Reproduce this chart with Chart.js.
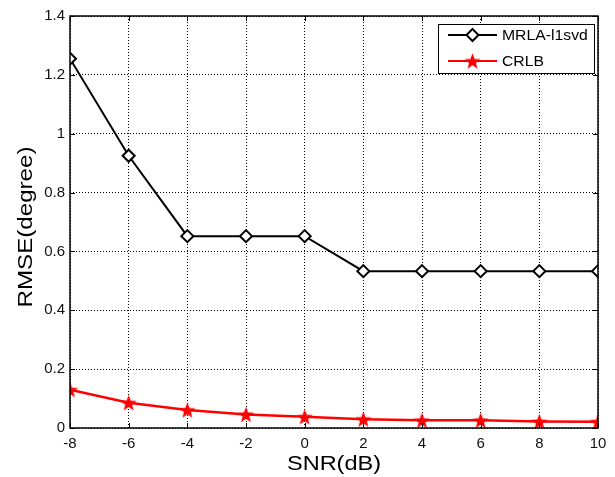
<!DOCTYPE html>
<html>
<head>
<meta charset="utf-8">
<script src="https://cdn.jsdelivr.net/npm/chart.js@4"></script>
<style>
  html, body { margin: 0; padding: 0; background: #fff; }
  #wrap { width: 615px; height: 477px; }
</style>
</head>
<body>
<div id="wrap"><canvas id="myChart" width="615" height="477"></canvas></div>
<script>
"use strict"

const snr = [-8, -6, -4, -2, 0, 2, 4, 6, 8, 10];
const mrla = [1.255, 0.925, 0.652, 0.652, 0.652, 0.533, 0.533, 0.533, 0.533, 0.533];
const crlb = [0.130, 0.086, 0.061, 0.046, 0.038, 0.030, 0.026, 0.026, 0.022, 0.021];
const xTicks = [-8, -6, -4, -2, 0, 2, 4, 6, 8, 10];
const yTicks = [0, 0.2, 0.4, 0.6, 0.8, 1, 1.2, 1.4];
const yTickLabels = ['0', '0.2', '0.4', '0.6', '0.8', '1', '1.2', '1.4'];
const seriesNames = ['MRLA-l1svd', 'CRLB'];

const fontName = "'Liberation Sans', Arial, sans-serif";

// filled five point star used as the CRLB marker
function makeStar(r, color) {
    const c = document.createElement('canvas');
    const s = Math.ceil(r * 2 + 2);
    c.width = s; c.height = s;
    const g = c.getContext('2d');
    g.translate(s / 2, s / 2 + 0.8);
    g.beginPath();
    for (let i = 0; i < 10; i++) {
        const rr = i % 2 === 0 ? r : r * 0.42;
        const a = -Math.PI / 2 + i * Math.PI / 5;
        g.lineTo(rr * Math.cos(a), rr * Math.sin(a));
    }
    g.closePath();
    g.fillStyle = color;
    g.fill();
    return c;
}
const star = makeStar(8.5, '#ff0000');

// wide text, like the stretched axis lettering
function wideText(ctx, text, x, y, sx) {
    ctx.save();
    ctx.translate(x, y);
    ctx.scale(sx, 1);
    ctx.fillText(text, 0, 0);
    ctx.restore();
}

// frame, inward ticks, axis titles and the boxed legend
const decorations = {
    id: 'decorations',
    afterDatasetsDraw(chart) {
        const { ctx, chartArea: a, scales: { x, y } } = chart;
        ctx.save();
        ctx.strokeStyle = '#000';
        ctx.lineWidth = 1;
        ctx.beginPath();
        xTicks.forEach(v => {
            const px = Math.round(x.getPixelForValue(v)) + 0.5;
            ctx.moveTo(px, a.bottom); ctx.lineTo(px, a.bottom - 5);
            ctx.moveTo(px, a.top); ctx.lineTo(px, a.top + 5);
        });
        yTicks.forEach(v => {
            const py = Math.round(y.getPixelForValue(v)) + 0.5;
            ctx.moveTo(a.left, py); ctx.lineTo(a.left + 5, py);
            ctx.moveTo(a.right, py); ctx.lineTo(a.right - 5, py);
        });
        ctx.stroke();
        ctx.lineWidth = 1.5;
        ctx.strokeRect(a.left, a.top, a.right - a.left, a.bottom - a.top);

        ctx.fillStyle = '#000';
        ctx.font = '21px ' + fontName;
        ctx.textAlign = 'center';
        ctx.textBaseline = 'middle';
        wideText(ctx, 'SNR(dB)', (a.left + a.right) / 2, 464, 1.12);
        ctx.save();
        ctx.translate(26, 227);
        ctx.rotate(-Math.PI / 2);
        wideText(ctx, 'RMSE(degree)', 0, 0, 1.15);
        ctx.restore();

        // legend
        const bx = 438, by = 24, bw = 156, bh = 49;
        ctx.fillStyle = '#fff';
        ctx.fillRect(bx, by, bw, bh);
        ctx.lineWidth = 1;
        ctx.strokeStyle = '#000';
        ctx.strokeRect(bx + 0.5, by + 0.5, bw, bh);
        const rows = [35, 61];
        chart.data.datasets.forEach((ds, i) => {
            const ry = rows[i];
            ctx.strokeStyle = ds.borderColor;
            ctx.lineWidth = 2;
            ctx.beginPath();
            ctx.moveTo(448, ry); ctx.lineTo(497, ry);
            ctx.stroke();
            if (i === 0) {
                ctx.beginPath();
                ctx.moveTo(472.5, ry - 6); ctx.lineTo(478.5, ry);
                ctx.lineTo(472.5, ry + 6); ctx.lineTo(466.5, ry);
                ctx.closePath();
                ctx.fillStyle = '#fff';
                ctx.fill();
                ctx.stroke();
            } else {
                ctx.drawImage(star, 472.5 - star.width / 2, ry - star.height / 2);
            }
            ctx.fillStyle = '#000';
            ctx.font = '15px ' + fontName;
            ctx.textAlign = 'left';
            wideText(ctx, ds.label, 502, ry + 1, 1.05);
        });
        ctx.restore();
    }
};

new Chart(document.getElementById('myChart'), {
    type: 'line',
    data: {
        labels: snr,
        datasets: [{
            label: seriesNames[0],
            data: snr.map((s, i) => ({ x: s, y: mrla[i] })),
            borderColor: '#000',
            borderWidth: 2,
            pointStyle: 'rectRot',
            pointRadius: 6,
            pointBorderWidth: 2,
            pointBackgroundColor: '#fff',
            pointBorderColor: '#000',
            tension: 0,
        }, {
            label: seriesNames[1],
            data: snr.map((s, i) => ({ x: s, y: crlb[i] })),
            borderColor: '#ff0000',
            borderWidth: 2.5,
            pointStyle: star,
            tension: 0,
        }]
    },
    options: {
        responsive: false,
        animation: false,
        layout: { padding: { top: 16, right: 17, left: 0, bottom: 0 } },
        plugins: { legend: { display: false }, tooltip: { enabled: false } },
        scales: {
            x: {
                type: 'linear',
                min: -8, max: 10,
                afterBuildTicks: s => { s.ticks = xTicks.map(v => ({ value: v })); },
                afterFit: s => { s.height = 49; },
                grid: { color: '#000', lineWidth: 1, drawTicks: false },
                border: { display: false, dash: [1, 2] },
                ticks: { color: '#111', padding: 7, maxRotation: 0, font: { size: 15, family: fontName } },
            },
            y: {
                min: 0, max: 1.4,
                afterBuildTicks: s => { s.ticks = yTicks.map(v => ({ value: v })); },
                afterFit: s => { s.width = 70; },
                grid: { color: '#000', lineWidth: 1, drawTicks: false },
                border: { display: false, dash: [1, 2] },
                ticks: {
                    color: '#111', padding: 5, font: { size: 15, family: fontName },
                    callback: (v, i) => yTickLabels[i],
                },
            },
        },
    },
    plugins: [decorations]
});
</script>
</body>
</html>
